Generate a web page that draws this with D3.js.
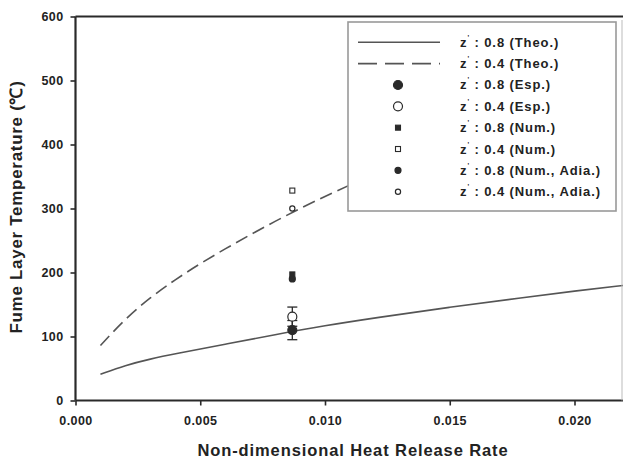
<!DOCTYPE html>
<html>
<head>
<meta charset="utf-8">
<script src="https://cdn.jsdelivr.net/npm/d3@7"></script>
<style>
  body { margin: 0; background: #fff; }
  text { font-family: "Liberation Sans", Arial, sans-serif; font-weight: bold; fill: #222; }
</style>
</head>
<body>
<div id="svg"></div>
<script>
// theoretical curves
var theo08X = [0.001, 0.002, 0.003, 0.004, 0.006, 0.008, 0.010, 0.012, 0.015, 0.018, 0.020, 0.022];
var theo08Y = [41, 55, 65, 73, 88, 103, 117, 129, 146, 161, 171, 180];
var theo04X = [0.001, 0.002, 0.003, 0.004, 0.005, 0.006, 0.007, 0.008, 0.009, 0.010, 0.011, 0.0125];
var theo04Y = [86, 128, 161, 189, 214, 237, 259, 280, 300, 319, 337, 362];

// measured / computed points at one heat release rate
var pointX = 0.00869;
var exp08 = {value: 110, err: 15};
var exp04 = {value: 131, err: 15};
var num08 = 197, num04 = 328;
var adia08 = 190, adia04 = 300;

var xTicks = [0, 0.005, 0.010, 0.015, 0.020];
var yTicks = [0, 100, 200, 300, 400, 500, 600];
var legendLabels = [
  ": 0.8 (Theo.)", ": 0.4 (Theo.)", ": 0.8 (Esp.)", ": 0.4 (Esp.)",
  ": 0.8 (Num.)", ": 0.4 (Num.)", ": 0.8 (Num., Adia.)", ": 0.4 (Num., Adia.)"
];

var width = 623, height = 463;
var svg = d3.select("#svg").append("svg")
  .attr("width", width).attr("height", height);

var x = d3.scaleLinear().domain([0, 0.022]).range([75.5, 624.4]);
var y = d3.scaleLinear().domain([0, 600]).range([400.5, 16.5]);

var ink = "#2a2a2a", lineCol = "#555";

// curves
var line = d3.line().x(function(d){ return x(d[0]); }).y(function(d){ return y(d[1]); })
  .curve(d3.curveBasis);

svg.append("path").datum(d3.zip(theo08X, theo08Y))
  .attr("d", line).attr("fill", "none").attr("stroke", lineCol).attr("stroke-width", 1.6);
svg.append("path").datum(d3.zip(theo04X, theo04Y))
  .attr("d", line).attr("fill", "none").attr("stroke", lineCol).attr("stroke-width", 1.6)
  .attr("stroke-dasharray", "13,6");

// error bars
[exp08, exp04].forEach(function(e){
  var g = svg.append("g").attr("stroke", ink).attr("stroke-width", 1.3);
  var cx = x(pointX);
  g.append("line").attr("x1", cx).attr("x2", cx).attr("y1", y(e.value - e.err)).attr("y2", y(e.value + e.err));
  [e.value - e.err, e.value + e.err].forEach(function(v){
    g.append("line").attr("x1", cx - 5).attr("x2", cx + 5).attr("y1", y(v)).attr("y2", y(v));
  });
});

// symbol helpers
function circle(g, cx, cy, r, filled) {
  g.append("circle").attr("cx", cx).attr("cy", cy).attr("r", r)
    .attr("fill", filled ? ink : "#fff").attr("stroke", ink).attr("stroke-width", 1.2);
}
function square(g, cx, cy, s, filled) {
  g.append("rect").attr("x", cx - s/2).attr("y", cy - s/2).attr("width", s).attr("height", s)
    .attr("fill", filled ? ink : "#fff").attr("stroke", ink).attr("stroke-width", 1.1);
}
var symbols = [
  function(g, cx, cy){ circle(g, cx, cy, 4.5, true); },
  function(g, cx, cy){ circle(g, cx, cy, 4.5, false); },
  function(g, cx, cy){ square(g, cx, cy, 5, true); },
  function(g, cx, cy){ square(g, cx, cy, 5, false); },
  function(g, cx, cy){ circle(g, cx, cy, 3, true); },
  function(g, cx, cy){ circle(g, cx, cy, 2.6, false); }
];

var pts = svg.append("g");
var px = x(pointX);
symbols[5](pts, px, y(adia04));
symbols[3](pts, px, y(num04));
symbols[2](pts, px, y(num08));
symbols[4](pts, px, y(adia08));
symbols[1](pts, px, y(exp04.value));
symbols[0](pts, px, y(exp08.value));

// axes
var xAxis = svg.append("g").attr("transform", "translate(0," + y(0) + ")")
  .call(d3.axisBottom(x).tickValues(xTicks).tickFormat(d3.format(".3f")).tickSize(5).tickPadding(11));
var yAxis = svg.append("g").attr("transform", "translate(" + x(0) + ",0)")
  .call(d3.axisLeft(y).tickValues(yTicks).tickSize(5).tickPadding(7));
[xAxis, yAxis].forEach(function(a){
  a.select(".domain").attr("stroke", ink).attr("stroke-width", 2.2);
  a.selectAll(".tick line").attr("stroke", ink).attr("stroke-width", 1.6);
  a.selectAll(".tick text").style("font-size", "12.5px").attr("fill", "#222")
    .style("letter-spacing", "0.4px")
    .style("font-family", "'Liberation Sans', Arial, sans-serif").style("font-weight", "bold");
});
xAxis.select(".domain").attr("d", "M" + x(0) + ",0H" + width);
yAxis.select(".domain").attr("d", "M0," + y(0) + "V" + y(600));

// top border and faint right border
svg.append("line").attr("x1", x(0)).attr("x2", width).attr("y1", y(600)).attr("y2", y(600))
  .attr("stroke", ink).attr("stroke-width", 2.2);
svg.append("line").attr("x1", 622).attr("x2", 622).attr("y1", 20).attr("y2", y(0))
  .attr("stroke", "#bbb").attr("stroke-width", 1);

// axis titles
svg.append("text").attr("x", 353).attr("y", 456).attr("text-anchor", "middle")
  .style("font-size", "16.5px").style("letter-spacing", "0.9px").text("Non-dimensional Heat Release Rate");
svg.append("text").attr("transform", "translate(22,207) rotate(-90)").attr("text-anchor", "middle")
  .style("font-size", "17px").style("letter-spacing", "0.7px").text("Fume Layer Temperature (\u2103)");

// legend
var lg = svg.append("g");
lg.append("rect").attr("x", 348).attr("y", 22).attr("width", 268).attr("height", 189)
  .attr("fill", "#fff").attr("stroke", "#999").attr("stroke-width", 1.6);
var rowY = d3.scaleLinear().domain([0, 7]).range([42.3, 191.7]);
legendLabels.forEach(function(lab, i){
  var ry = rowY(i);
  if (i === 0) lg.append("line").attr("x1", 358).attr("x2", 440).attr("y1", ry).attr("y2", ry)
    .attr("stroke", lineCol).attr("stroke-width", 1.6);
  else if (i === 1) lg.append("line").attr("x1", 358).attr("x2", 440).attr("y1", ry).attr("y2", ry)
    .attr("stroke", lineCol).attr("stroke-width", 1.6).attr("stroke-dasharray", "19,8");
  else symbols[i - 2](lg, 398, ry);
  var t = lg.append("text").attr("x", 460).attr("y", ry + 4.5)
    .style("font-size", "13px").style("letter-spacing", "0.9px");
  t.append("tspan").text("z");
  t.append("tspan").attr("dy", -7).style("font-size", "7px").text("'");
  t.append("tspan").attr("dy", 7).text(" " + lab);
});
</script>
</body>
</html>
